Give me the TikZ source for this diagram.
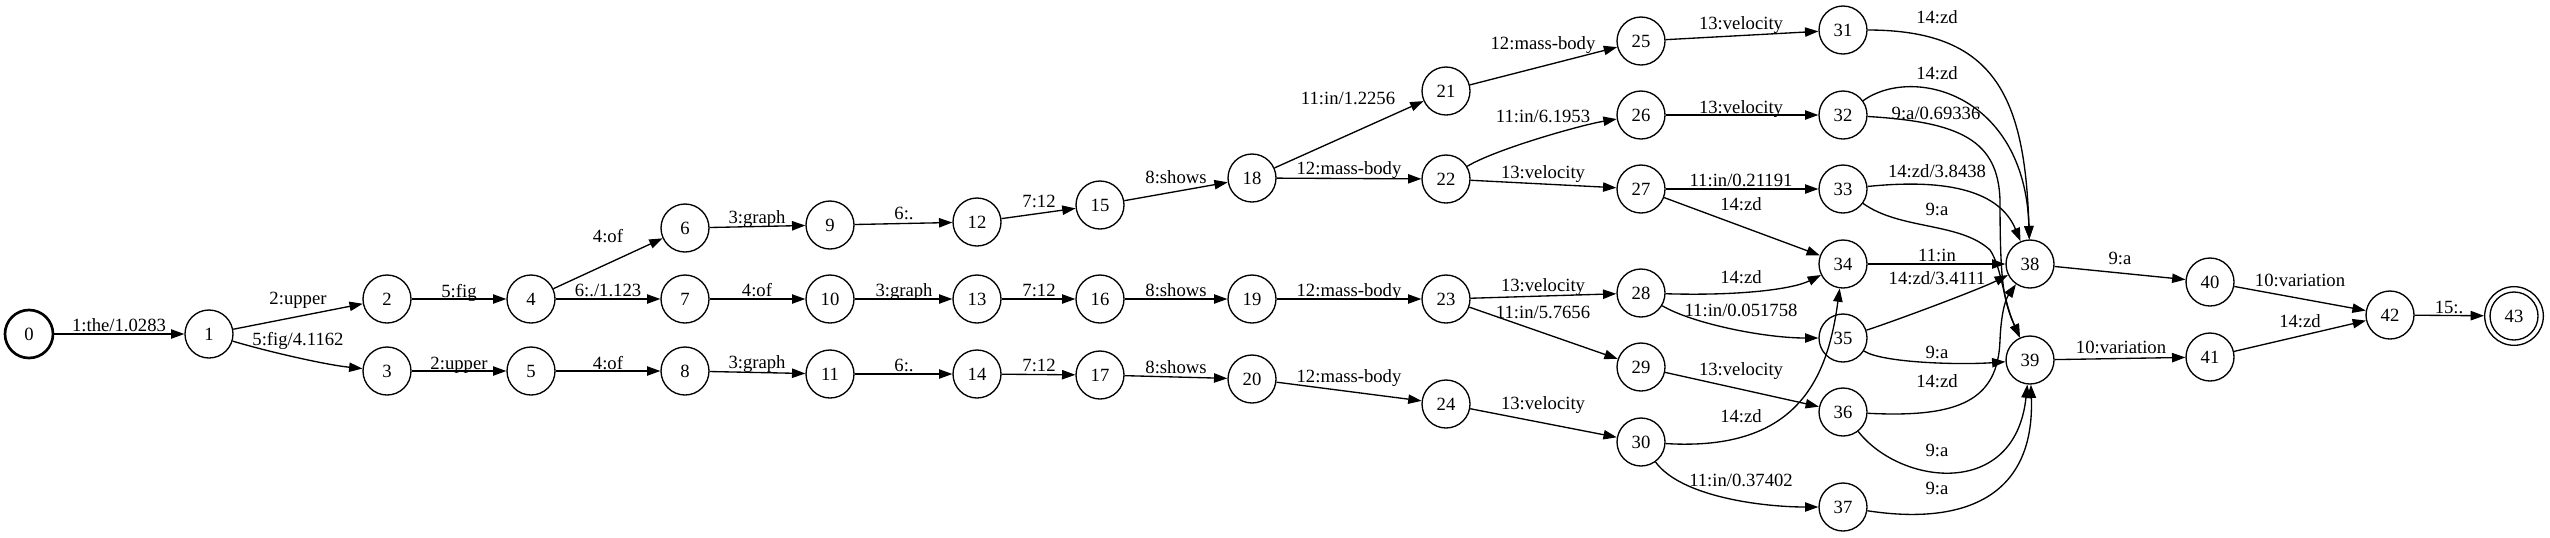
\documentclass[tikz,border=0pt]{standalone}
\usepackage{fontspec}
\setmainfont{Liberation Serif}
\usetikzlibrary{arrows.meta}
\begin{document}
\begin{tikzpicture}[x=0.75pt,y=-0.75pt,
  st/.style={circle, draw, line width=1pt, minimum size=36pt, inner sep=0pt, font=\fontsize{14pt}{16pt}\selectfont},
  initst/.style={st, line width=2pt},
  finst/.style={st, minimum size=44pt},
  e/.style={-{Triangle[length=10pt,width=7pt]}, line width=1pt},
  lbl/.style={inner sep=0pt, text height=9.5pt, text depth=0pt, font=\fontsize{14pt}{16pt}\selectfont}]
\useasboundingbox (0,0) rectangle (2550,537);
% nodes
\node[initst] (n0) at (29,334) {0};
\node[st] (n1) at (209,334) {1};
\node[st] (n2) at (387,299) {2};
\node[st] (n3) at (387,371) {3};
\node[st] (n4) at (531,299) {4};
\node[st] (n5) at (531,371) {5};
\node[st] (n6) at (685,228) {6};
\node[st] (n7) at (685,299) {7};
\node[st] (n8) at (685,371) {8};
\node[st] (n9) at (830,225) {9};
\node[st] (n10) at (830,299) {10};
\node[st] (n11) at (830,374) {11};
\node[st] (n12) at (977,222) {12};
\node[st] (n13) at (977,299) {13};
\node[st] (n14) at (977,374) {14};
\node[st] (n15) at (1100,205) {15};
\node[st] (n16) at (1100,299) {16};
\node[st] (n17) at (1100,375) {17};
\node[st] (n18) at (1252,178) {18};
\node[st] (n19) at (1252,299) {19};
\node[st] (n20) at (1252,379) {20};
\node[st] (n21) at (1446,91) {21};
\node[st] (n22) at (1446,179) {22};
\node[st] (n23) at (1446,299) {23};
\node[st] (n24) at (1446,404) {24};
\node[st] (n25) at (1641,41) {25};
\node[st] (n26) at (1641,115) {26};
\node[st] (n27) at (1641,189) {27};
\node[st] (n28) at (1641,293) {28};
\node[st] (n29) at (1641,367) {29};
\node[st] (n30) at (1641,442) {30};
\node[st] (n31) at (1843,30) {31};
\node[st] (n32) at (1843,115) {32};
\node[st] (n33) at (1843,189) {33};
\node[st] (n34) at (1843,264) {34};
\node[st] (n35) at (1843,338) {35};
\node[st] (n36) at (1843,412) {36};
\node[st] (n37) at (1843,507) {37};
\node[st] (n38) at (2030,264) {38};
\node[st] (n39) at (2030,360) {39};
\node[st] (n40) at (2210,282) {40};
\node[st] (n41) at (2210,357) {41};
\node[st] (n42) at (2390,315) {42};
\node[finst] (n43) at (2514,316) {43};
\draw[line width=1pt] (n43.center) circle[radius=18pt];
% edges
\draw[e] (n0) -- (n1) node[lbl,at={(119,325)}] {1:the/1.0283};
\draw[e] (n1) -- (n2) node[lbl,at={(298,298)}] {2:upper};
\draw[e] (n1) .. controls +(60,18) and +(-60,-6) .. (n3) node[lbl,at={(298,339)}] {5:fig/4.1162};
\draw[e] (n2) -- (n4) node[lbl,at={(459,291)}] {5:fig};
\draw[e] (n3) -- (n5) node[lbl,at={(459,363)}] {2:upper};
\draw[e] (n4) -- (n6) node[lbl,at={(608,236)}] {4:of};
\draw[e] (n4) -- (n7) node[lbl,at={(608,290)}] {6:./1.123};
\draw[e] (n5) -- (n8) node[lbl,at={(608,363)}] {4:of};
\draw[e] (n6) -- (n9) node[lbl,at={(757,217)}] {3:graph};
\draw[e] (n7) -- (n10) node[lbl,at={(757,290)}] {4:of};
\draw[e] (n8) -- (n11) node[lbl,at={(757,362)}] {3:graph};
\draw[e] (n9) -- (n12) node[lbl,at={(904,213)}] {6:.};
\draw[e] (n10) -- (n13) node[lbl,at={(904,290)}] {3:graph};
\draw[e] (n11) -- (n14) node[lbl,at={(904,365)}] {6:.};
\draw[e] (n12) -- (n15) node[lbl,at={(1039,201)}] {7:12};
\draw[e] (n13) -- (n16) node[lbl,at={(1039,290)}] {7:12};
\draw[e] (n14) -- (n17) node[lbl,at={(1039,365)}] {7:12};
\draw[e] (n15) -- (n18) node[lbl,at={(1176,177)}] {8:shows};
\draw[e] (n16) -- (n19) node[lbl,at={(1176,290)}] {8:shows};
\draw[e] (n17) -- (n20) node[lbl,at={(1176,367)}] {8:shows};
\draw[e] (n18) -- (n21) node[lbl,at={(1348,98)}] {11:in/1.2256};
\draw[e] (n18) -- (n22) node[lbl,at={(1349,168)}] {12:mass-body};
\draw[e] (n19) -- (n23) node[lbl,at={(1349,290)}] {12:mass-body};
\draw[e] (n20) -- (n24) node[lbl,at={(1349,376)}] {12:mass-body};
\draw[e] (n21) -- (n25) node[lbl,at={(1543,43)}] {12:mass-body};
\draw[e] (n22) .. controls +(50,-30) and +(-60,10) .. (n26) node[lbl,at={(1543,116)}] {11:in/6.1953};
\draw[e] (n22) -- (n27) node[lbl,at={(1543,172)}] {13:velocity};
\draw[e] (n23) -- (n28) node[lbl,at={(1543,285)}] {13:velocity};
\draw[e] (n23) -- (n29) node[lbl,at={(1543,312)}] {11:in/5.7656};
\draw[e] (n24) -- (n30) node[lbl,at={(1543,403)}] {13:velocity};
\draw[e] (n25) -- (n31) node[lbl,at={(1741,23)}] {13:velocity};
\draw[e] (n26) -- (n32) node[lbl,at={(1741,107)}] {13:velocity};
\draw[e] (n27) -- (n33) node[lbl,at={(1741,180)}] {11:in/0.21191};
\draw[e] (n27) -- (n34) node[lbl,at={(1741,204)}] {14:zd};
\draw[e] (n28) .. controls +(100,3) and +(-50,25) .. (n34) node[lbl,at={(1741,277)}] {14:zd};
\draw[e] (n28) .. controls +(50,30) and +(-80,0) .. (n35) node[lbl,at={(1741,310)}] {11:in/0.051758};
\draw[e] (n29) -- (n36) node[lbl,at={(1741,369)}] {13:velocity};
\draw[e] (n30) .. controls +(160,10) and +(-15,110) .. (n34) node[lbl,at={(1741,416)}] {14:zd};
\draw[e] (n30) .. controls +(40,55) and +(-80,0) .. (n37) node[lbl,at={(1741,480)}] {11:in/0.37402};
\draw[e] (n31) .. controls +(150,0) and +(-5,-170) .. (n38) node[lbl,at={(1937,17)}] {14:zd};
\draw[e] (n32) .. controls +(70,-50) and +(-5,-170) .. (n38) node[lbl,at={(1937,73)}] {14:zd};
\draw[e] (n32) .. controls (1960,122) and (1998,140) .. (2000,200) .. controls (2000,280) and (2003,300) .. (n39) node[lbl,at={(1936,113)}] {9:a/0.69336};
\draw[e] (n33) .. controls +(107,-11) and +(-30,-72) .. (n38) node[lbl,at={(1937,171)}] {14:zd/3.8438};
\draw[e] (n33) .. controls (1900,230) and (1960,222) .. (1990,250) .. controls (2002,268) and (2003,300) .. (n39) node[lbl,at={(1937,209)}] {9:a};
\draw[e] (n34) -- (n38) node[lbl,at={(1937,255)}] {11:in};
\draw[e] (n35) .. controls +(60,-20) and +(-50,25) .. (n38) node[lbl,at={(1937,278)}] {14:zd/3.4111};
\draw[e] (n35) .. controls +(40,25) and +(-70,5) .. (n39) node[lbl,at={(1937,352)}] {9:a};
\draw[e] (n36) .. controls (1960,418) and (1998,400) .. (2000,340) .. controls (2001,315) and (2005,300) .. (n38) node[lbl,at={(1937,381)}] {14:zd};
\draw[e] (n36) .. controls (1900,485) and (2015,500) .. (n39) node[lbl,at={(1937,450)}] {9:a};
\draw[e] (n37) .. controls (1960,525) and (2035,500) .. (n39) node[lbl,at={(1937,488)}] {9:a};
\draw[e] (n38) -- (n40) node[lbl,at={(2120,258)}] {9:a};
\draw[e] (n39) -- (n41) node[lbl,at={(2121,347)}] {10:variation};
\draw[e] (n40) -- (n42) node[lbl,at={(2300,280)}] {10:variation};
\draw[e] (n41) -- (n42) node[lbl,at={(2300,321)}] {14:zd};
\draw[e] (n42) -- (n43) node[lbl,at={(2449,307)}] {15:.};
\end{tikzpicture}
\end{document}
